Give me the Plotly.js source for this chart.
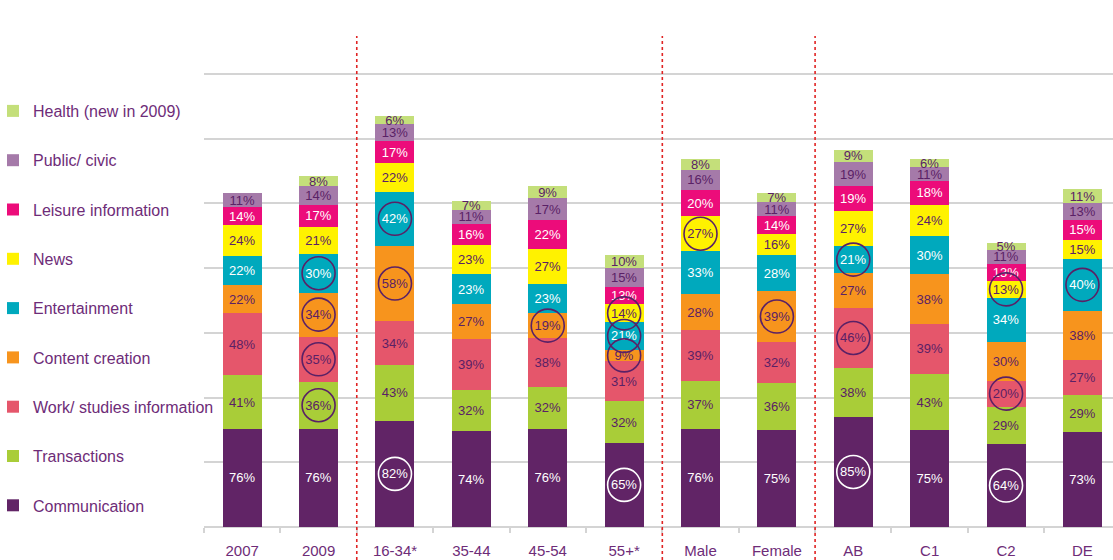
<!DOCTYPE html>
<html>
<head>
<meta charset="utf-8">
<script src="https://cdn.plot.ly/plotly-3.0.1.min.js"></script>
<style>
  html, body { margin: 0; padding: 0; background: #ffffff; }
  #chart { width: 1113px; height: 560px; }
</style>
</head>
<body>
<div id="chart"></div>
<script>
// ---- data ----
const categories = ['2007', '2009', '16-34*', '35-44', '45-54', '55+*', 'Male', 'Female', 'AB', 'C1', 'C2', 'DE'];
const communication   = [76, 76, 82, 74, 76, 65, 76, 75, 85, 75, 64, 73];
const transactions    = [41, 36, 43, 32, 32, 32, 37, 36, 38, 43, 29, 29];
const workStudies     = [48, 35, 34, 39, 38, 31, 39, 32, 46, 39, 20, 27];
const contentCreation = [22, 34, 58, 27, 19,  9, 28, 39, 27, 38, 30, 38];
const entertainment   = [22, 30, 42, 23, 23, 21, 33, 28, 21, 30, 34, 40];
const news            = [24, 21, 22, 23, 27, 14, 27, 16, 27, 24, 13, 15];
const leisureInfo     = [14, 17, 17, 16, 22, 13, 20, 14, 19, 18, 13, 15];
const publicCivic     = [11, 14, 13, 11, 17, 15, 16, 11, 19, 11, 11, 13];
const health          = [ 0,  8,  6,  7,  9, 10,  8,  7,  9,  6,  5, 11];

const seriesNames = ['Communication', 'Transactions', 'Work/ studies information', 'Content creation',
                     'Entertainment', 'News', 'Leisure information', 'Public/ civic', 'Health (new in 2009)'];

// highlighted (circled) segments, by series
const circleCommunication = ['16-34*', '55+*', 'AB', 'C2'];
const circleTransactions  = ['2009'];
const circleWork          = ['2009', 'AB', 'C2'];
const circleContent       = ['2009', '16-34*', '45-54', '55+*', 'Female'];
const circleEntertainment = ['2009', '16-34*', '55+*', 'AB', 'DE'];
const circleNews          = ['55+*', 'Male', 'C2'];

// group dividers come after these categories
const groupEnds = ['2009', '55+*', 'Female'];

// ---- styles ----
const seriesValues = [communication, transactions, workStudies, contentCreation, entertainment,
                      news, leisureInfo, publicCivic, health];
const seriesColors = ['#612466', '#a9cd38', '#e5566b', '#f7941d', '#00a9bd', '#fff200', '#ec0c7a', '#a57aa9', '#c4df7a'];
const DARK = '#5a2166';
const textColors = ['#ffffff', DARK, DARK, DARK, '#ffffff', DARK, '#ffffff', DARK, DARK];
const circleLists = [circleCommunication, circleTransactions, circleWork, circleContent, circleEntertainment, circleNews, [], [], []];
const circleColors = ['#ffffff', DARK, DARK, DARK, DARK, DARK, DARK, DARK, DARK];
const FONT = 'Liberation Sans, Arial, sans-serif';

const traces = [];
seriesValues.forEach((vals, i) => {
  traces.push({
    type: 'bar',
    name: seriesNames[i],
    x: categories,
    y: vals,
    marker: { color: seriesColors[i], line: { width: 0 } },
    text: vals.map(v => v > 0 ? v + '%' : ''),
    textposition: 'inside',
    insidetextanchor: 'middle',
    textangle: 0,
    constraintext: 'none',
    textfont: { family: FONT, size: 13, color: textColors[i] },
    legendgroup: 'g' + i,
    legendrank: 100 - i,
    hoverinfo: 'x+y+name',
    cliponaxis: false
  });
});

// circles at segment midpoints
seriesValues.forEach((vals, i) => {
  const cx = [], cy = [];
  categories.forEach((c, k) => {
    if (circleLists[i].indexOf(c) >= 0) {
      let base = 0;
      for (let j = 0; j < i; j++) base += seriesValues[j][k];
      cx.push(c);
      cy.push(base + vals[k] / 2);
    }
  });
  if (cx.length) {
    traces.push({
      type: 'scatter', mode: 'markers', x: cx, y: cy, showlegend: false, hoverinfo: 'skip',
      cliponaxis: false,
      marker: { symbol: 'circle-open', size: 33, color: circleColors[i], line: { width: 1.6, color: circleColors[i] } }
    });
  }
});

const marginL = 204, marginR = 0, marginT = 9, marginB = 33;
const plotW = 1113 - marginL - marginR;
const plotH = 560 - marginT - marginB;

const shapes = groupEnds.map(c => {
  const xPos = categories.indexOf(c) + 0.5;
  return {
    type: 'line', xref: 'x', yref: 'paper', x0: xPos, x1: xPos,
    y0: -marginB / plotH, y1: (plotH - 27) / plotH,
    line: { color: '#e02424', width: 1.6, dash: 'dot' }, layer: 'above'
  };
});

const layout = {
  width: 1113, height: 560,
  margin: { l: marginL, r: marginR, t: marginT, b: marginB, pad: 0, autoexpand: false },
  paper_bgcolor: '#ffffff', plot_bgcolor: '#ffffff',
  barmode: 'stack',
  bargap: 0.49,
  font: { family: FONT, size: 14, color: '#6e2c78' },
  showlegend: true,
  legend: {
    x: -(marginL + 7) / plotW, xanchor: 'left',
    y: 1 - (94 - marginT) / plotH, yanchor: 'top',
    traceorder: 'grouped',
    tracegroupgap: 25.5,
    font: { family: FONT, size: 16, color: '#6e2c78' },
    bgcolor: 'rgba(0,0,0,0)', borderwidth: 0,
    itemwidth: 30
  },
  xaxis: {
    type: 'category',
    range: [-0.5, 11.4],
    showgrid: false, zeroline: false, showline: false,
    ticks: 'outside', tickson: 'boundaries', ticklen: 5, tickwidth: 2, tickcolor: '#d4d4d4',
    tickfont: { family: FONT, size: 15, color: '#6e2c78' },
    ticklabelstandoff: 13,
    fixedrange: true
  },
  yaxis: {
    range: [0, 400],
    dtick: 50, tick0: 0,
    showgrid: true, gridcolor: '#d4d4d4', gridwidth: 2,
    zeroline: true, zerolinecolor: '#d4d4d4', zerolinewidth: 2,
    showline: false, showticklabels: false, ticks: '',
    fixedrange: true
  },
  shapes: shapes
};

Plotly.newPlot('chart', traces, layout, { displayModeBar: false, staticPlot: true });
</script>
</body>
</html>
